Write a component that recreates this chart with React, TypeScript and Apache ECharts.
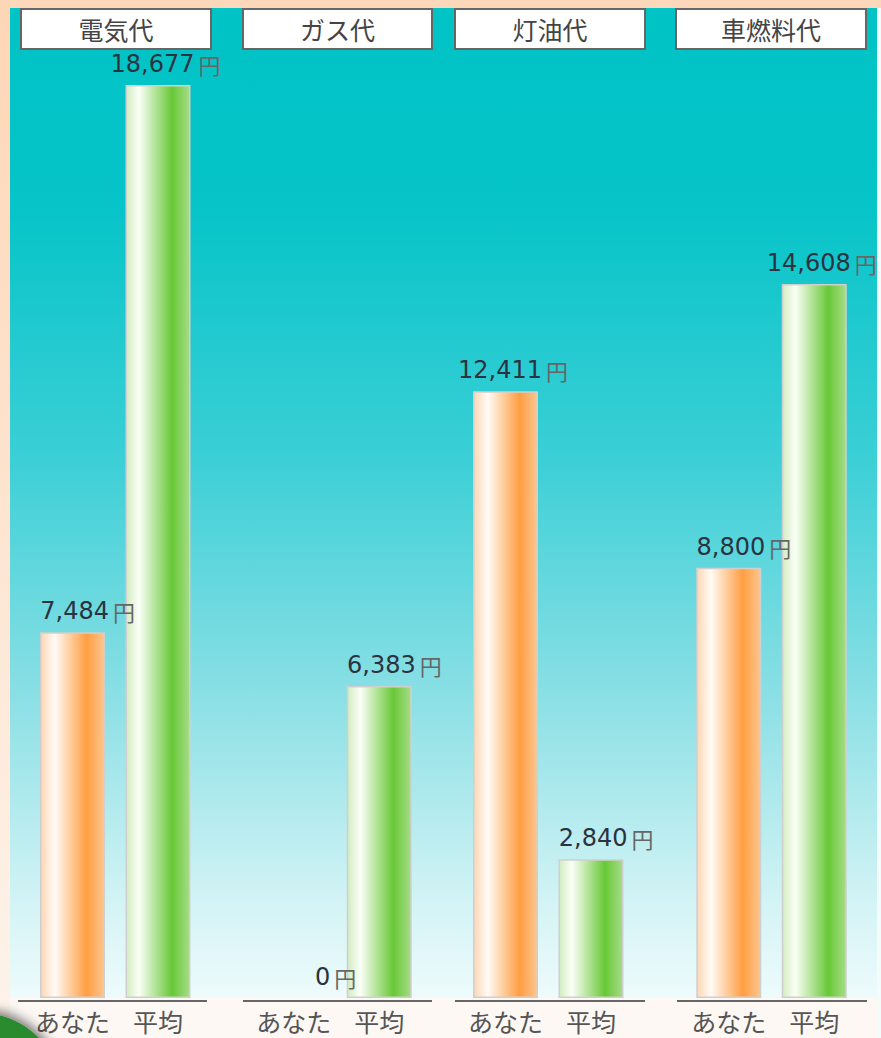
import React, { useEffect, useRef } from "react";
import * as echarts from "echarts";

const categories = ["あなた", "平均"];
const panelTitles = ["電気代", "ガス代", "灯油代", "車燃料代"];
const youValues = [7484, 0, 12411, 8800];
const avgValues = [18677, 6383, 2840, 14608];
const yMax = 20000;

// layout (pixels)
const gridLefts = [29.75, 251, 462.75, 686];
const gridWidth = 171;
const axisSpans = [[18, 207], [243, 432], [455, 645], [677, 867]];
const boxSpans = [[21, 211], [243, 432], [455, 645], [676, 866]];
const baseY = 998;
const pxPerUnit = 0.04888;
const gridTop = baseY - yMax * pxPerUnit;

const FONT = "'DejaVu Sans', 'Noto Sans CJK JP', sans-serif";
const JFONT = "'Noto Sans CJK JP', sans-serif";

const orangeGrad = () =>
  new echarts.graphic.LinearGradient(0, 0, 1, 0, [
    { offset: 0, color: "#fdd6b4" },
    { offset: 0.22, color: "#fffbf6" },
    { offset: 0.72, color: "#ff9e42" },
    { offset: 1, color: "#fcc690" },
  ]);
const greenGrad = () =>
  new echarts.graphic.LinearGradient(0, 0, 1, 0, [
    { offset: 0, color: "#d2ecc0" },
    { offset: 0.2, color: "#fbfff8" },
    { offset: 0.72, color: "#68c836" },
    { offset: 1, color: "#a6dc88" },
  ]);

export default function App() {
  const ref = useRef<HTMLDivElement>(null);
  useEffect(() => {
    if (!ref.current) return;
    const chart = echarts.init(ref.current, undefined, { renderer: "svg" });

    const grids = gridLefts.map((l) => ({
      left: l,
      width: gridWidth,
      top: gridTop,
      bottom: 1038 - baseY,
      containLabel: false,
    }));
    const xAxes = gridLefts.map((_, i) => ({
      type: "category",
      gridIndex: i,
      data: categories,
      axisLine: { show: false },
      axisTick: { show: false },
      axisLabel: {
        interval: 0,
        hideOverlap: false,
        color: "#555",
        fontSize: 25,
        fontFamily: JFONT,
        margin: 10,
      },
    }));
    const yAxes = gridLefts.map((_, i) => ({
      type: "value",
      gridIndex: i,
      min: 0,
      max: yMax,
      show: false,
      splitLine: { show: false },
    }));
    const series = gridLefts.map((_, i) => ({
      type: "bar",
      xAxisIndex: i,
      yAxisIndex: i,
      barWidth: 65,
      data: [
        {
          value: youValues[i],
          itemStyle: {
            color: orangeGrad(),
            borderColor: "#cfcfcf",
            borderWidth: youValues[i] > 0 ? 1.5 : 0,
          },
        },
        {
          value: avgValues[i],
          itemStyle: {
            color: greenGrad(),
            borderColor: "#cfcfcf",
            borderWidth: avgValues[i] > 0 ? 1.5 : 0,
          },
        },
      ],
      label: {
        show: true,
        position: "top",
        distance: 9,
        align: "right",
        offset: [62.5, 0],
        formatter: (p: any) =>
          `{n|${Number(p.value).toLocaleString("en-US")}}{u|円}`,
        rich: {
          n: { fontSize: 24, color: "#2b3340", fontFamily: FONT },
          u: { fontSize: 22, color: "#666", fontFamily: JFONT, padding: [0, 0, 0, 4] },
        },
      },
    }));

    const graphics: any[] = [
      { type: "rect", z: -10, shape: { x: 0, y: 0, width: 881, height: 8 }, style: { fill: "#fdd8ba" } },
      {
        type: "rect",
        z: -10,
        shape: { x: 0, y: 0, width: 10, height: 1038 },
        style: {
          fill: new echarts.graphic.LinearGradient(0, 0, 0, 1, [
            { offset: 0, color: "#fdd6b6" },
            { offset: 1, color: "#fdf4ec" },
          ]),
        },
      },
      {
        type: "rect",
        z: -10,
        shape: { x: 10, y: 8, width: 867, height: baseY - 8 },
        style: {
          fill: new echarts.graphic.LinearGradient(0, 0, 0, 1, [
            { offset: 0, color: "#00c3c6" },
            { offset: 0.2, color: "#06c4c8" },
            { offset: 0.45, color: "#3acfd6" },
            { offset: 0.7, color: "#8ce0e5" },
            { offset: 0.9, color: "#d2f3f5" },
            { offset: 1, color: "#eefbfc" },
          ]),
        },
      },
      { type: "rect", z: -10, shape: { x: 877, y: 8, width: 4, height: 1030 }, style: { fill: "#f4fbfb" } },
      {
        type: "circle",
        z: 5,
        shape: { cx: -20, cy: 1095, r: 82 },
        style: {
          fill: "#2b8a2e",
          shadowBlur: 12,
          shadowColor: "rgba(0,0,0,0.55)",
          shadowOffsetY: -3,
          shadowOffsetX: 2,
        },
      },
    ];
    axisSpans.forEach(([a, b]) => {
      graphics.push({
        type: "line",
        z: 5,
        shape: { x1: a, y1: 1001, x2: b, y2: 1001 },
        style: { stroke: "#666", lineWidth: 2 },
      });
    });
    boxSpans.forEach(([a, b], i) => {
      graphics.push({
        type: "rect",
        z: 5,
        shape: { x: a, y: 9, width: b - a, height: 40 },
        style: { fill: "#ffffff", stroke: "#666", lineWidth: 2 },
      });
      graphics.push({
        type: "text",
        z: 6,
        x: (a + b) / 2,
        y: 29,
        style: {
          text: panelTitles[i],
          fill: "#444",
          fontSize: 25,
          fontFamily: JFONT,
          align: "center",
          verticalAlign: "middle",
        },
      });
    });

    chart.setOption({
      animation: false,
      backgroundColor: "#fdf8f4",
      grid: grids,
      xAxis: xAxes,
      yAxis: yAxes,
      series,
      graphic: graphics,
    });
    return () => chart.dispose();
  }, []);
  return (
    <div
      ref={ref}
      style={{ position: "absolute", left: 0, top: 0, width: 881, height: 1038 }}
    />
  );
}
